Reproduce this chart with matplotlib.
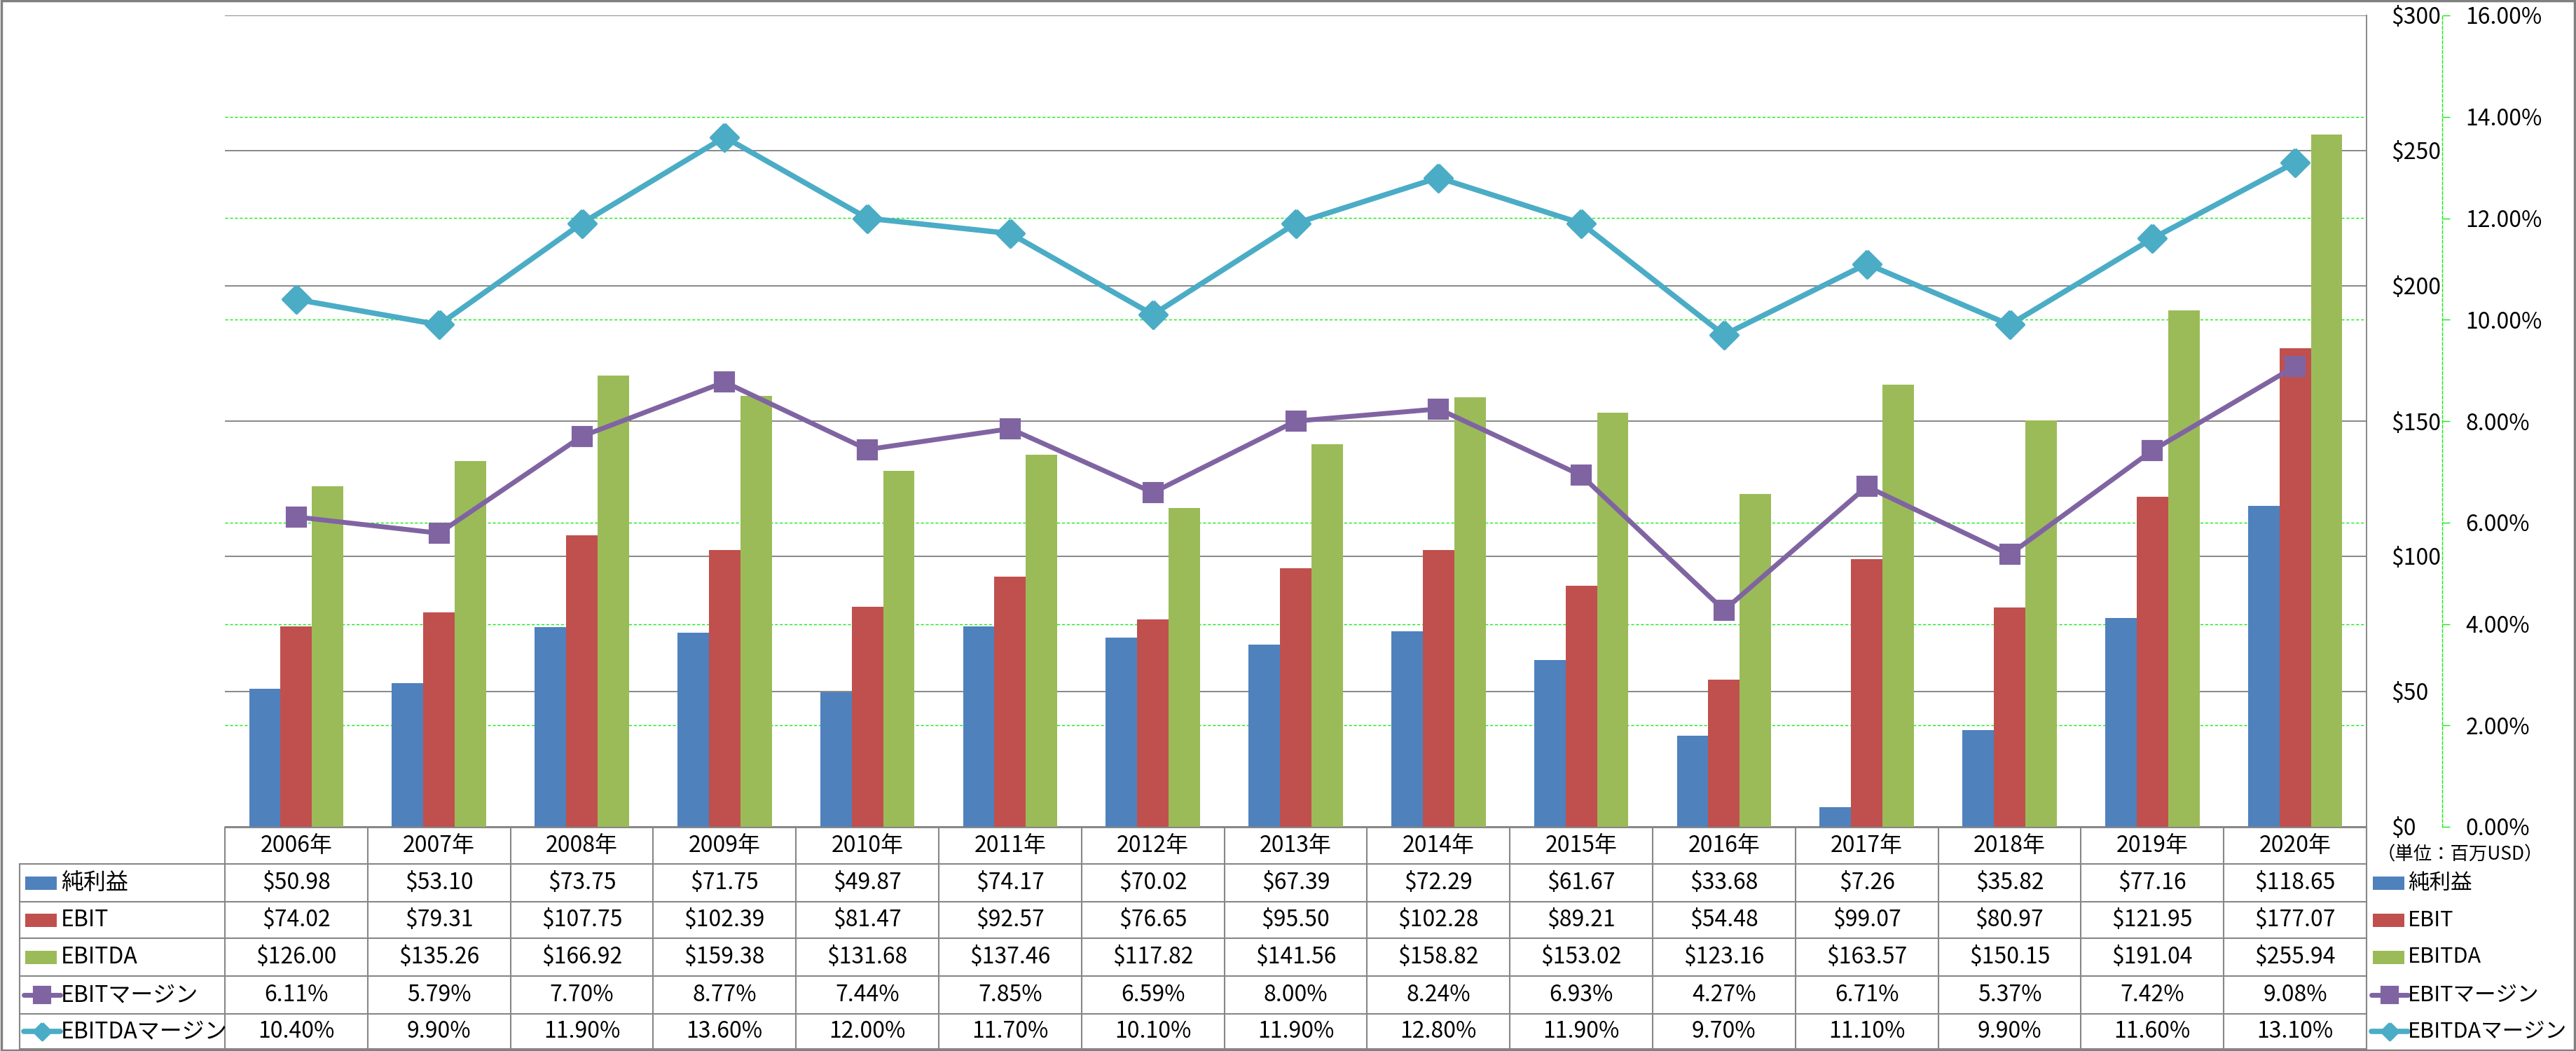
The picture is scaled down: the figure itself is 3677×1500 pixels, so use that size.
import matplotlib
matplotlib.use('Agg')
import matplotlib.pyplot as plt
import numpy as np
from matplotlib.lines import Line2D
from matplotlib.patches import Rectangle
from matplotlib.transforms import blended_transform_factory

plt.rcParams['font.family'] = ['Noto Sans CJK JP', 'DejaVu Sans']

# ---------------- data ----------------
years = ['2006年', '2007年', '2008年', '2009年', '2010年', '2011年', '2012年', '2013年',
         '2014年', '2015年', '2016年', '2017年', '2018年', '2019年', '2020年']
net_income = [50.98, 53.10, 73.75, 71.75, 49.87, 74.17, 70.02, 67.39, 72.29, 61.67,
              33.68, 7.26, 35.82, 77.16, 118.65]
ebit = [74.02, 79.31, 107.75, 102.39, 81.47, 92.57, 76.65, 95.50, 102.28, 89.21,
        54.48, 99.07, 80.97, 121.95, 177.07]
ebitda = [126.00, 135.26, 166.92, 159.38, 131.68, 137.46, 117.82, 141.56, 158.82, 153.02,
          123.16, 163.57, 150.15, 191.04, 255.94]
ebit_margin = [6.11, 5.79, 7.70, 8.77, 7.44, 7.85, 6.59, 8.00, 8.24, 6.93,
               4.27, 6.71, 5.37, 7.42, 9.08]
ebitda_margin = [10.40, 9.90, 11.90, 13.60, 12.00, 11.70, 10.10, 11.90, 12.80, 11.90,
                 9.70, 11.10, 9.90, 11.60, 13.10]
series_names = ['純利益', 'EBIT', 'EBITDA', 'EBITマージン', 'EBITDAマージン']
unit_label = '（単位：百万USD）'
usd_max, usd_step = 300, 50
pct_max, pct_step = 16, 2

# ---------------- style ----------------
C_BLUE, C_RED, C_GREEN = '#4F81BD', '#C0504D', '#9BBB59'
C_PURPLE, C_CYAN = '#8064A2', '#4BACC6'
GRAY = '#878787'
LGREEN = '#10EE10'
FS = 23

W, H = 3677, 1500
fig = plt.figure(figsize=(W / 100, H / 100), dpi=100)


def fx(px):
    return px / W


def fy(py):
    return 1 - py / H


L, R, T, B = 321, 3378, 22, 1180
ax = fig.add_axes([fx(L), fy(B), fx(R) - fx(L), fy(T) - fy(B)])
x = np.arange(len(years))
w = 0.22
ax.bar(x - w, net_income, w, color=C_BLUE, zorder=2)
ax.bar(x, ebit, w, color=C_RED, zorder=2)
ax.bar(x + w, ebitda, w, color=C_GREEN, zorder=2)
ax.set_xlim(-0.5, len(years) - 0.5)
ax.set_ylim(0, usd_max)

ax2 = ax.twinx()
ax2.set_position(ax.get_position())

ax.set_yticks(np.arange(0, usd_max + 1, usd_step))
ax.set_yticks(np.arange(0, pct_max + 0.01, pct_step) * usd_max / pct_max, minor=True)
ax.yaxis.tick_right()
ax.yaxis.set_major_formatter(lambda v, p: f'${v:.0f}')
ax.tick_params(axis='y', which='major', left=False, right=True, labelleft=False,
               labelright=True, length=0, pad=25, labelsize=FS)
ax.tick_params(axis='y', which='minor', left=False, right=False, length=0)
ax.set_xticks([])
for s in ['top', 'left', 'bottom']:
    ax.spines[s].set_visible(False)
ax.spines['right'].set_visible(True)
ax.spines['right'].set_color(GRAY)
ax.spines['right'].set_linewidth(1.4)
ax.grid(axis='y', which='major', color=GRAY, lw=1.4, zorder=0)
ax.grid(axis='y', which='minor', color=LGREEN, lw=1.0, ls=(0, (3, 2)), zorder=0)
ax.set_axisbelow(True)

ax2.set_ylim(0, pct_max)
ax2.set_xlim(ax.get_xlim())
ax2.plot(x, ebit_margin, color=C_PURPLE, lw=5, marker='s', ms=19, mew=3,
         mec=C_PURPLE, mfc=C_PURPLE, solid_joinstyle='round')
ax2.plot(x, ebitda_margin, color=C_CYAN, lw=5.5,
         marker=[(0, 1), (1, 0), (0, -1), (-1, 0), (0, 1)], ms=28, mew=3,
         mec=C_CYAN, mfc=C_CYAN, solid_joinstyle='round')
for s in ['top', 'left', 'bottom']:
    ax2.spines[s].set_visible(False)
ax2.spines['right'].set_position(('outward', 78))
ax2.spines['right'].set_color(LGREEN)
ax2.spines['right'].set_linestyle((0, (3, 2)))
ax2.spines['right'].set_linewidth(1.0)
ax2.set_yticks(np.arange(0, pct_max + 0.01, pct_step))
ax2.yaxis.set_major_formatter(lambda v, p: f'{v:.2f}%')
ax2.tick_params(axis='y', length=8, width=1.0, color=LGREEN, pad=16, labelsize=FS)

# ---------------- data table ----------------
bt = blended_transform_factory(ax.transData, fig.transFigure)
row_lines = [1181, 1233, 1287, 1339, 1393, 1447, 1497]
LBL_L = 28
tbl_kw = dict(color=GRAY, lw=1.5)
fig.add_artist(Line2D([fx(L), fx(R)], [fy(row_lines[0])] * 2, **tbl_kw))
for yy in row_lines[1:]:
    fig.add_artist(Line2D([fx(LBL_L), fx(R)], [fy(yy)] * 2, **tbl_kw))
for i in range(len(years) + 1):
    fig.add_artist(Line2D([i - 0.5, i - 0.5], [fy(row_lines[0]), fy(row_lines[-1])],
                          transform=bt, **tbl_kw))
fig.add_artist(Line2D([fx(LBL_L)] * 2, [fy(row_lines[1]), fy(row_lines[-1])], **tbl_kw))

hdr_y = fy((row_lines[0] + row_lines[1]) / 2)
for i, yr in enumerate(years):
    fig.text(i, hdr_y, yr, transform=bt, ha='center', va='center', fontsize=FS)

rows = [
    [f'${v:.2f}' for v in net_income],
    [f'${v:.2f}' for v in ebit],
    [f'${v:.2f}' for v in ebitda],
    [f'{v:.2f}%' for v in ebit_margin],
    [f'{v:.2f}%' for v in ebitda_margin],
]
row_centers = [(row_lines[k] + row_lines[k + 1]) / 2 for k in range(1, 6)]
for r, vals in enumerate(rows):
    yc = fy(row_centers[r])
    for i, s in enumerate(vals):
        fig.text(i, yc, s, transform=bt, ha='center', va='center', fontsize=FS)

DIAMOND = [(0, 1), (1, 0), (0, -1), (-1, 0), (0, 1)]


def legend_key(x0, yc_px, kind):
    yc = fy(yc_px)
    if kind < 3:
        col = [C_BLUE, C_RED, C_GREEN][kind]
        fig.add_artist(Rectangle((fx(x0), yc - 9.5 / H), 45 / W, 19 / H,
                                 transform=fig.transFigure, color=col, lw=0))
    elif kind == 3:
        fig.add_artist(Line2D([fx(x0 - 2), fx(x0 + 50)], [yc, yc], color=C_PURPLE, lw=5,
                              solid_capstyle='round'))
        fig.add_artist(Line2D([fx(x0 + 24)], [yc], color=C_PURPLE, marker='s', ms=16, mew=3,
                              mec=C_PURPLE, lw=0))
    else:
        fig.add_artist(Line2D([fx(x0 - 2), fx(x0 + 50)], [yc, yc], color=C_CYAN, lw=5.5,
                              solid_capstyle='round'))
        fig.add_artist(Line2D([fx(x0 + 24)], [yc], marker=DIAMOND,
                              ms=17, mew=3, color=C_CYAN, mec=C_CYAN, lw=0))


for r, name in enumerate(series_names):
    legend_key(36, row_centers[r], r)
    fig.text(fx(87), fy(row_centers[r]), name, ha='left', va='center', fontsize=FS)
    legend_key(3387, row_centers[r], r)
    fig.text(fx(3437), fy(row_centers[r]), name, ha='left', va='center', fontsize=FS - 1)

fig.text(fx(3511), fy(1220), unit_label, ha='center', va='center', fontsize=FS - 4)

# outer border
fig.add_artist(Rectangle((0.0005, 0.0008), 0.999, 0.9985, transform=fig.transFigure,
                         fill=False, edgecolor='#808080', lw=2.5))

fig.savefig('out.png', dpi=100)
